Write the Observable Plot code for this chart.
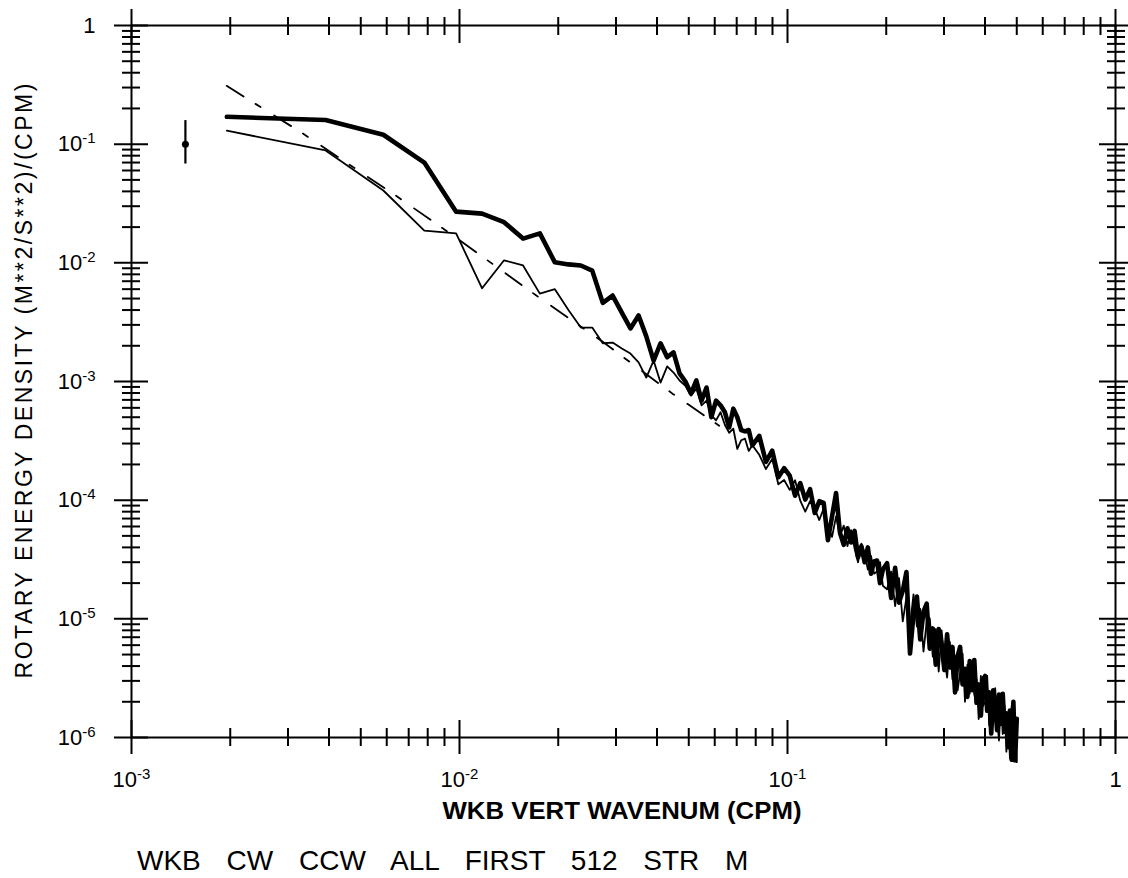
<!DOCTYPE html>
<html><head><meta charset="utf-8">
<script src="https://cdn.jsdelivr.net/npm/d3@7"></script>
<script src="https://cdn.jsdelivr.net/npm/@observablehq/plot@0.6"></script>
<style>
html,body{margin:0;padding:0;background:#fff;}
#chart svg{display:block;}
#caption{font-family:"Liberation Sans",Arial,sans-serif;font-size:28px;line-height:32px;word-spacing:18px;padding-left:137px;margin-top:5px;color:#000;white-space:pre;}
</style></head><body>
<div id="chart"></div>
<div id="caption"></div>
<script>
// ---- data ----
const captionText = "WKB CW CCW ALL FIRST 512 STR M";
const xLabel = "WKB VERT WAVENUM (CPM)";
const yLabel = "ROTARY ENERGY DENSITY (M**2/S**2)/(CPM)";
const recordLength = 512; // metres
const harmonics = [...d3.range(1, 41), ...d3.range(42, 101, 2), ...d3.range(103, 257, 3)];

// thick curve
const cwEnergy = [
  0.17, 0.16, 0.12, 0.070, 0.027, 0.026, 0.022, 0.016, 0.0177, 0.0101,
  0.0097, 0.0095, 0.0086, 0.0046, 0.0053, 0.0038, 0.0028, 0.0036, 0.0024, 0.0015,
  0.0021, 0.0016, 0.00176, 0.00117, 0.0010, 0.00079, 0.00102, 0.00069, 0.00089, 0.00050,
  0.00069, 0.00063, 0.00055, 0.00041, 0.00059, 0.00050, 0.00039, 0.00038, 0.00039, 0.00029,
  3.48e-4, 2.10e-4, 2.61e-4, 1.56e-4, 1.86e-4, 1.61e-4, 1.09e-4, 1.39e-4, 1.01e-4, 1.24e-4,
  7.8e-5, 9.8e-5, 9.5e-5, 4.6e-5, 7.3e-5, 1.15e-4, 5.3e-5, 4.2e-5, 5.8e-5, 4.4e-5,
  5.5e-5, 3.3e-5, 4.1e-5, 3.0e-5, 4.0e-5, 2.4e-5, 3.05e-5, 3.1e-5, 2.0e-5, 2.6e-5,
  2.94e-5, 1.50e-5, 2.69e-5, 1.37e-5, 1.72e-5, 2.48e-5, 5.1e-6, 1.09e-5, 1.54e-5, 6.7e-6,
  1.15e-5, 1.34e-5, 5.6e-6, 8.3e-6, 4.1e-6, 8.2e-6, 6.1e-6, 3.7e-6, 7.4e-6, 3.9e-6,
  5.8e-6, 2.4e-6, 4.8e-6, 5.8e-6, 2.8e-6, 3.8e-6, 2.2e-6, 4.4e-6, 2.5e-6, 4.5e-6,
  1.96e-6, 2.8e-6, 1.53e-6, 3.1e-6, 3.3e-6, 1.68e-6, 2.4e-6, 1.08e-6, 2.5e-6, 1.92e-6,
  1.15e-6, 2.3e-6, 1.30e-6, 2.34e-6, 1.12e-6, 1.60e-6, 8.3e-7, 1.69e-6, 6.5e-7, 2.0e-6,
  6.4e-7, 1.44e-6
];
// thin curve
const ccwEnergy = [
  0.130, 0.0885, 0.0407, 0.0187, 0.0177, 0.0061, 0.0105, 0.0095, 0.0055, 0.0060,
  0.0040, 0.00285, 0.00285, 0.0021, 0.00213, 0.0019, 0.00172, 0.00145, 0.00108, 0.0015,
  0.00098, 0.00134, 0.00119, 0.00102, 0.00092, 0.00076, 0.00087, 0.00063, 0.00069, 0.00052,
  0.00047, 0.00055, 0.00043, 0.00037, 0.00040, 0.00027, 0.00032, 0.00033, 0.00026, 0.00029,
  2.41e-4, 1.83e-4, 2.22e-4, 1.36e-4, 1.48e-4, 1.22e-4, 1.47e-4, 9.9e-5, 8.0e-5, 9.8e-5,
  8.4e-5, 6.8e-5, 8.5e-5, 6.0e-5, 4.9e-5, 7.3e-5, 5.0e-5, 6.1e-5, 4.1e-5, 5.6e-5,
  3.9e-5, 3.0e-5, 4.3e-5, 3.6e-5, 2.6e-5, 3.4e-5, 2.4e-5, 2.5e-5, 3.0e-5, 1.9e-5,
  1.77e-5, 2.5e-5, 1.28e-5, 2.2e-5, 9.5e-6, 1.51e-5, 8.6e-6, 1.61e-5, 8.6e-6, 1.21e-5,
  5.3e-6, 9.4e-6, 1.01e-5, 4.8e-6, 8.2e-6, 3.6e-6, 8.0e-6, 4.7e-6, 3.2e-6, 6.4e-6,
  3.1e-6, 4.9e-6, 2.5e-6, 3.5e-6, 5.1e-6, 2.0e-6, 4.1e-6, 2.34e-6, 4.3e-6, 2.3e-6,
  3.1e-6, 1.43e-6, 3.3e-6, 1.85e-6, 1.98e-6, 3.3e-6, 1.27e-6, 2.4e-6, 1.36e-6, 2.6e-6,
  1.46e-6, 9.4e-7, 2.1e-6, 1.07e-6, 1.86e-6, 7.6e-7, 1.61e-6, 6.7e-7, 1.84e-6, 9.2e-7,
  1.37e-6, 6.2e-7
];

// dash-dot model curve
const modelK = [0.00195, 0.0033, 0.0064, 0.00995, 0.01715, 0.0272, 0.0446, 0.0619];
const modelEnergy = [0.31, 0.125, 0.0368, 0.0157, 0.0053, 0.00218, 0.00079, 0.000424];

// error bar
const errK = [0.00146];
const errMid = [0.1];
const errLow = [0.068];
const errHigh = [0.158];

// ticks
const xTicks = [1e-3, 1e-2, 1e-1, 1];
const xTickLabels = ["10^-3", "10^-2", "10^-1", "1"];
const yTicks = [1e-6, 1e-5, 1e-4, 1e-3, 1e-2, 1e-1, 1];
const yTickLabels = ["10^-6", "10^-5", "10^-4", "10^-3", "10^-2", "10^-1", "1"];
const minorMult = [2, 3, 4, 5, 6, 7, 8, 9];
const xMinor = xTicks.slice(0, -1).flatMap(d => minorMult.map(m => m * d));
const yMinor = yTicks.slice(0, -1).flatMap(d => minorMult.map(m => m * d));

// ---- tables ----
const thick = harmonics.map((n, i) => ({k: n / recordLength, v: cwEnergy[i]}));
const thin = harmonics.map((n, i) => ({k: n / recordLength, v: ccwEnergy[i]}));
const model = modelK.map((k, i) => ({k, v: modelEnergy[i]}));
const err = errK.map((k, i) => ({k, mid: errMid[i], lo: errLow[i], hi: errHigh[i]}));

const fmtX = d => xTickLabels[xTicks.findIndex(t => Math.abs(Math.log10(t) - Math.log10(d)) < 1e-6)];
const fmtY = d => yTickLabels[yTicks.findIndex(t => Math.abs(Math.log10(t) - Math.log10(d)) < 1e-6)];
const allTickLabels = new Set([...xTickLabels, ...yTickLabels]);

const tickStyle = {fill: "none", label: null, strokeWidth: 2, stroke: "#000"};

const chart = Plot.plot({
  width: 1128, height: 840,
  marginLeft: 131, marginRight: 13, marginTop: 25, marginBottom: 103,
  x: {type: "log", domain: [1e-3, 1]},
  y: {type: "log", domain: [1e-6, 1]},
  style: {fontFamily: '"Liberation Sans", Arial, sans-serif', color: "#000", background: "#fff", overflow: "visible"},
  marks: [
    Plot.line(model, {x: "k", y: "v", stroke: "#000", strokeWidth: 1.8, strokeDasharray: "20,14,6,16"}),
    Plot.line(thin, {x: "k", y: "v", stroke: "#000", strokeWidth: 1.8}),
    Plot.line(thick, {x: "k", y: "v", stroke: "#000", strokeWidth: 4.6}),
    Plot.ruleX(err, {x: "k", y1: "lo", y2: "hi", stroke: "#000", strokeWidth: 2.2}),
    Plot.dot(err, {x: "k", y: "mid", r: 3.5, fill: "#000", stroke: "none"}),
    Plot.frame({stroke: "#000", strokeWidth: 2}),
    // crossing ticks on all four sides
    Plot.axisX({ticks: xTicks, tickSize: 34, dy: -17, ...tickStyle}),
    Plot.axisX({ticks: xMinor, tickSize: 18, dy: -9, ...tickStyle}),
    Plot.axisX({anchor: "top", ticks: xTicks, tickSize: 34, dy: 17, ...tickStyle}),
    Plot.axisX({anchor: "top", ticks: xMinor, tickSize: 18, dy: 9, ...tickStyle}),
    Plot.axisY({ticks: yTicks, tickSize: 34, dx: 17, ...tickStyle}),
    Plot.axisY({ticks: yMinor, tickSize: 18, dx: 9, ...tickStyle}),
    Plot.axisY({anchor: "right", ticks: yTicks, tickSize: 34, dx: -17, ...tickStyle}),
    Plot.axisY({anchor: "right", ticks: yMinor, tickSize: 18, dx: -9, ...tickStyle}),
    // tick labels
    Plot.axisX({ticks: xTicks, tickSize: 0, tickPadding: 34, tickFormat: fmtX, stroke: "none", fill: "#000", fontSize: 22, label: null}),
    Plot.axisY({ticks: yTicks, tickSize: 0, tickPadding: 36, tickFormat: fmtY, stroke: "none", fill: "#000", fontSize: 22, label: null}),
    // axis titles
    Plot.text([xLabel], {text: d => d, frameAnchor: "bottom", dy: 74.5, fontSize: 23, fontWeight: "bold", lineAnchor: "middle", fill: "#000"}),
    Plot.text([yLabel], {text: d => d, frameAnchor: "left", dx: -107, rotate: -90, fontSize: 23, lineAnchor: "middle", fill: "#000"})
  ]
});

// superscript exponents in tick labels, sizes and title lengths
const NS = "http://www.w3.org/2000/svg";
chart.querySelectorAll("text").forEach(t => {
  const s = t.textContent;
  if (allTickLabels.has(s)) {
    t.setAttribute("font-size", "22");
    t.style.fontSize = "22px";
    if (s.includes("^")) {
      const [base, exp] = s.split("^");
      t.textContent = "";
      const a = document.createElementNS(NS, "tspan");
      a.textContent = base;
      a.style.fontSize = "22px";
      const b = document.createElementNS(NS, "tspan");
      b.textContent = exp;
      b.setAttribute("dy", "-8");
      b.style.fontSize = "15px";
      t.append(a, b);
    }
  } else if (s === xLabel) {
    t.setAttribute("text-anchor", "start");
    t.setAttribute("x", "-181");
    t.setAttribute("textLength", "359");
    t.setAttribute("lengthAdjust", "spacingAndGlyphs");
  } else if (s === yLabel) {
    t.setAttribute("text-anchor", "start");
    t.setAttribute("x", "-297");
    t.setAttribute("textLength", "595");
    t.setAttribute("lengthAdjust", "spacing");
  }
});

document.getElementById("chart").append(chart);
document.getElementById("caption").textContent = captionText;
</script></body></html>
